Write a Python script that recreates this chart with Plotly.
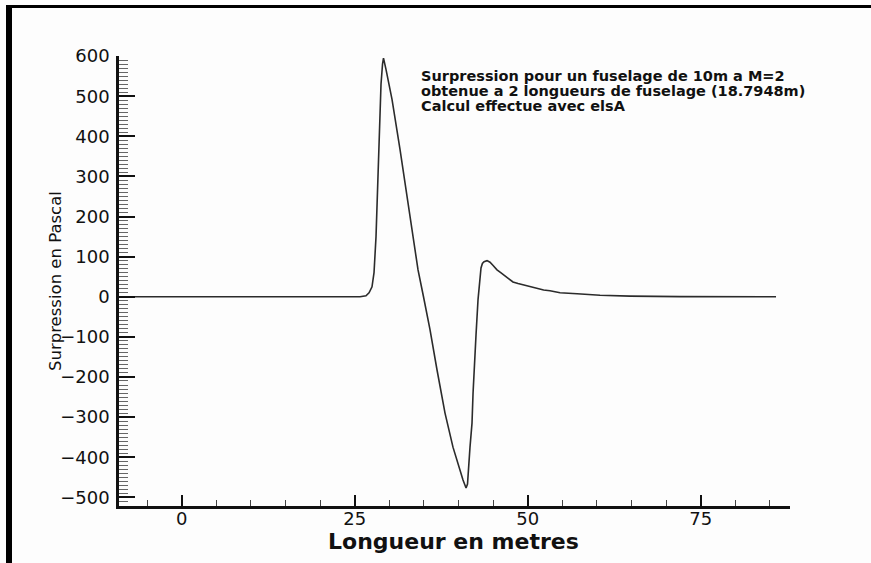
import plotly.graph_objects as go

# overpressure signature
longueur = [-6.75, 25.77, 26.63, 27.07, 27.5, 27.79, 28.08, 28.37, 28.66, 28.8,
            29.02, 29.16, 29.52, 30.39, 31.55, 33.43, 34.15, 34.94, 35.88, 36.89,
            38.05, 39.2, 40.22, 40.65, 41.09, 41.3, 41.66, 41.95, 42.1, 42.24,
            42.53, 42.82, 43.0, 43.25, 43.45, 43.69, 44.12, 44.55, 45.0, 45.56,
            46.1, 46.72, 47.3, 47.87, 48.6, 49.32, 50.3, 51.34, 52.3, 53.22,
            54.67, 57.13, 60.45, 64.78, 72.0, 85.88]
surpression = [0, 0, 2.5, 10, 25, 60, 150, 300, 450, 530,
               580, 595, 567, 492, 367, 142, 67, 0, -82, -182,
               -290, -375, -437, -457, -477, -467, -375, -315, -240, -182,
               -95, -7, 35, 72, 83, 87.5, 90, 86, 78, 67,
               60, 52, 44, 37, 33, 30, 25, 20, 17, 15,
               10, 7.5, 3.7, 1.7, 0.3, 0]

x_ticks = [0, 25, 50, 75]
y_ticks = [-500, -400, -300, -200, -100, 0, 100, 200, 300, 400, 500, 600]

info_lines = ["Surpression pour un fuselage de 10m a M=2",
              "obtenue a 2 longueurs de fuselage (18.7948m)",
              "Calcul effectue avec elsA"]

W, H = 871, 563
L, R, T, B = 119, 790, 56, 506


def px(x):
    return (x - L) / (R - L)


def py(y):
    return (B - y) / (B - T)


fig = go.Figure()
fig.add_trace(go.Scatter(x=longueur, y=surpression, mode="lines",
                         line=dict(color="#2b2b2b", width=1.6),
                         showlegend=False, hoverinfo="skip"))

tick_font = dict(family="DejaVu Sans", size=18, color="#111")

fig.update_layout(
    width=W, height=H, autosize=False,
    margin=dict(l=L, r=W - R, t=T, b=H - B, pad=0),
    paper_bgcolor="#fdfdfd", plot_bgcolor="#fdfdfd",
    xaxis=dict(range=[-9.06, 87.9], tickmode="array", tickvals=x_ticks,
               ticks="inside", ticklen=11, tickwidth=2, tickcolor="#111",
               showline=True, linecolor="#111", linewidth=2.5,
               showgrid=False, zeroline=False, tickfont=tick_font,
               ticklabelstandoff=-5,
               minor=dict(dtick=5, tick0=0, ticks="inside", ticklen=6,
                          tickwidth=1.3, tickcolor="#444", showgrid=False)),
    yaxis=dict(range=[-521.7, 600.3], tickmode="array", tickvals=y_ticks,
               ticks="inside", ticklen=16, tickwidth=2, tickcolor="#111",
               showline=True, linecolor="#111", linewidth=2.5,
               showgrid=False, zeroline=False, tickfont=tick_font,
               ticklabelstandoff=3,
               minor=dict(dtick=10, tick0=0, ticks="inside", ticklen=9,
                          tickwidth=1.2, tickcolor="#666", showgrid=False)),
)

# axis titles
fig.add_annotation(text="<b>Longueur en metres</b>", xref="paper", yref="paper",
                   x=px(453), y=py(541), xanchor="center", yanchor="middle",
                   showarrow=False,
                   font=dict(family="DejaVu Sans", size=22, color="#111"))
fig.add_annotation(text="Surpression en Pascal", xref="paper", yref="paper",
                   x=px(55), y=py(281), xanchor="center", yanchor="middle",
                   textangle=-90, showarrow=False,
                   font=dict(family="DejaVu Sans", size=16.5, color="#111"))

# info text block
for i, line in enumerate(info_lines):
    fig.add_annotation(text="<b>" + line + "</b>", xref="paper", yref="paper",
                       x=px(419), y=py(76 + 15 * i), xanchor="left",
                       yanchor="middle", showarrow=False,
                       font=dict(family="DejaVu Sans", size=14.5, color="#111"))

# black frame on top and left edges
fig.add_shape(type="rect", xref="paper", yref="paper",
              x0=px(6), x1=px(12), y0=py(5), y1=py(H),
              fillcolor="black", line_width=0)
fig.add_shape(type="rect", xref="paper", yref="paper",
              x0=px(6), x1=px(W), y0=py(5), y1=py(8),
              fillcolor="black", line_width=0)

fig.write_html("out.html", config={"displayModeBar": False},
               post_script="document.body.style.margin='0px';")
